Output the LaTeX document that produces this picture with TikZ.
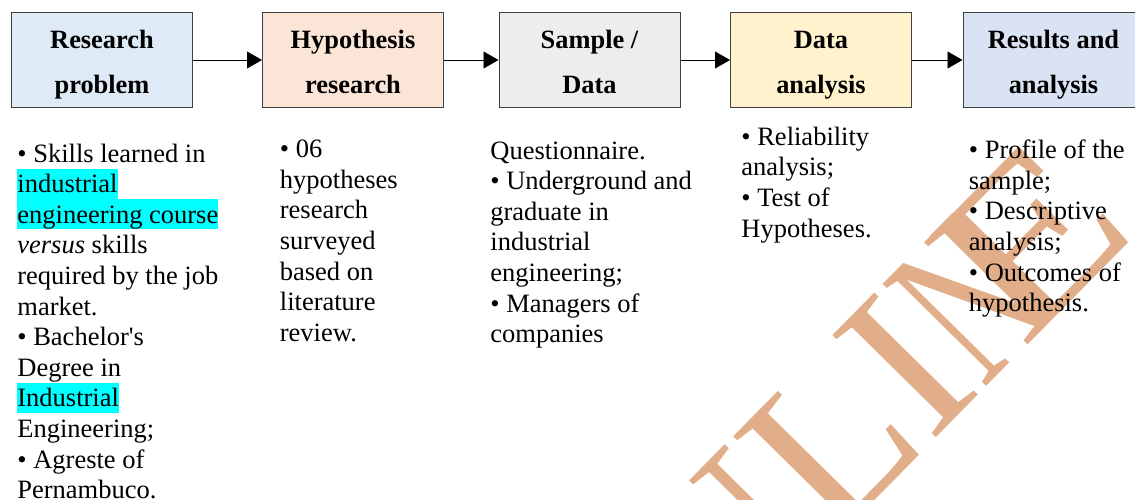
\documentclass[tikz,border=0pt]{standalone}
\usepackage{fontspec}
\setmainfont{Liberation Serif}
\usepackage{xcolor}
\usepackage{graphicx}
\usetikzlibrary{arrows.meta, positioning}

\definecolor{boxline}{HTML}{404040}
\definecolor{rpfill}{HTML}{DEEBF7}
\definecolor{hypfill}{HTML}{FBE5D6}
\definecolor{smpfill}{HTML}{EDEDED}
\definecolor{datfill}{HTML}{FFF2CC}
\definecolor{resfill}{HTML}{DAE3F3}
\definecolor{wmark}{HTML}{E2AD89}
\definecolor{hlfill}{HTML}{00FFFF}

\newcommand{\hlcyan}[1]{{\setlength{\fboxsep}{0pt}\colorbox{hlfill}{\rule[-2.9pt]{0pt}{14.9pt}#1}}}

\begin{document}
\begin{tikzpicture}[
    x=1pt, y=1pt, node distance=25pt,
    box/.style={draw=boxline, line width=0.5pt, align=center, minimum width=90.5pt, minimum height=47.25pt, inner sep=1pt,
        font=\bfseries\fontsize{13.2}{22.5}\selectfont,
        execute at begin node={\rule{0pt}{36.3pt}}, execute at end node={\rule[-3pt]{0pt}{3pt}}},
    note/.style={align=left, inner sep=0pt, font=\fontsize{13.25}{15.3}\selectfont},
    >={Triangle[length=7.5pt, width=8.5pt]}]
\useasboundingbox (0,0) rectangle (567.5,-249.5);
% watermark
\begin{scope}
\clip (0,0) rectangle (567.5,-249.5);
\begin{scope}[shift={(299.95,-389.3)}, rotate=45.4, xscale=1.03]
\node[transform shape, anchor=base west, inner sep=0pt, text=wmark, font=\fontsize{111}{111}\selectfont] (wm) at (0,0) {ONLI\scalebox{0.65}[1]{N}\kern-0.23em\scalebox{1.2}[1]{E}};
\end{scope}
\end{scope}
% steps
\node[box, fill=rpfill] (rp) at (51,-30) {Research\\problem};
\node[box, fill=hypfill, right=34.5pt of rp] (hyp) {Hypothesis\\research};
\node[box, fill=smpfill, right=27.25pt of hyp] (smp) {Sample /\\Data};
\node[box, fill=datfill, right=24.75pt of smp] (dat) {Data\\analysis};
\node[box, fill=resfill, right=25.25pt of dat] (res) {Results and\\analysis};
\draw[->] (rp) -- (hyp);
\draw[->] (hyp) -- (smp);
\draw[->] (smp) -- (dat);
\draw[->] (dat) -- (res);
% notes
\node[note, below right=17.8pt and 3pt of rp.south west] (rptxt) {• Skills learned in\\
  \hlcyan{industrial}\\
  \hlcyan{engineering course}\\
  \textit{versus} skills\\
  required by the job\\
  market.\\
  • Bachelor\textquotesingle s\\
  Degree in\\
  \hlcyan{Industrial}\\
  Engineering;\\
  • Agreste of\\
  Pernambuco.};
\node[note, below right=15.95pt and 8.75pt of hyp.south west] (hyptxt) {• 06\\hypotheses\\research\\surveyed\\based on\\literature\\review.};
\node[note, below right=16.7pt and -4.25pt of smp.south west] (smptxt) {Questionnaire.\\• Underground and\\graduate in\\industrial\\engineering;\\• Managers of\\companies};
\node[note, below right=9.35pt and 5.5pt of dat.south west] (dattxt) {• Reliability\\analysis;\\• Test of\\Hypotheses.};
\node[note, below right=15.95pt and 3pt of res.south west] (restxt) {• Profile of the\\sample;\\• Descriptive\\analysis;\\• Outcomes of\\hypothesis.};
\end{tikzpicture}
\end{document}
